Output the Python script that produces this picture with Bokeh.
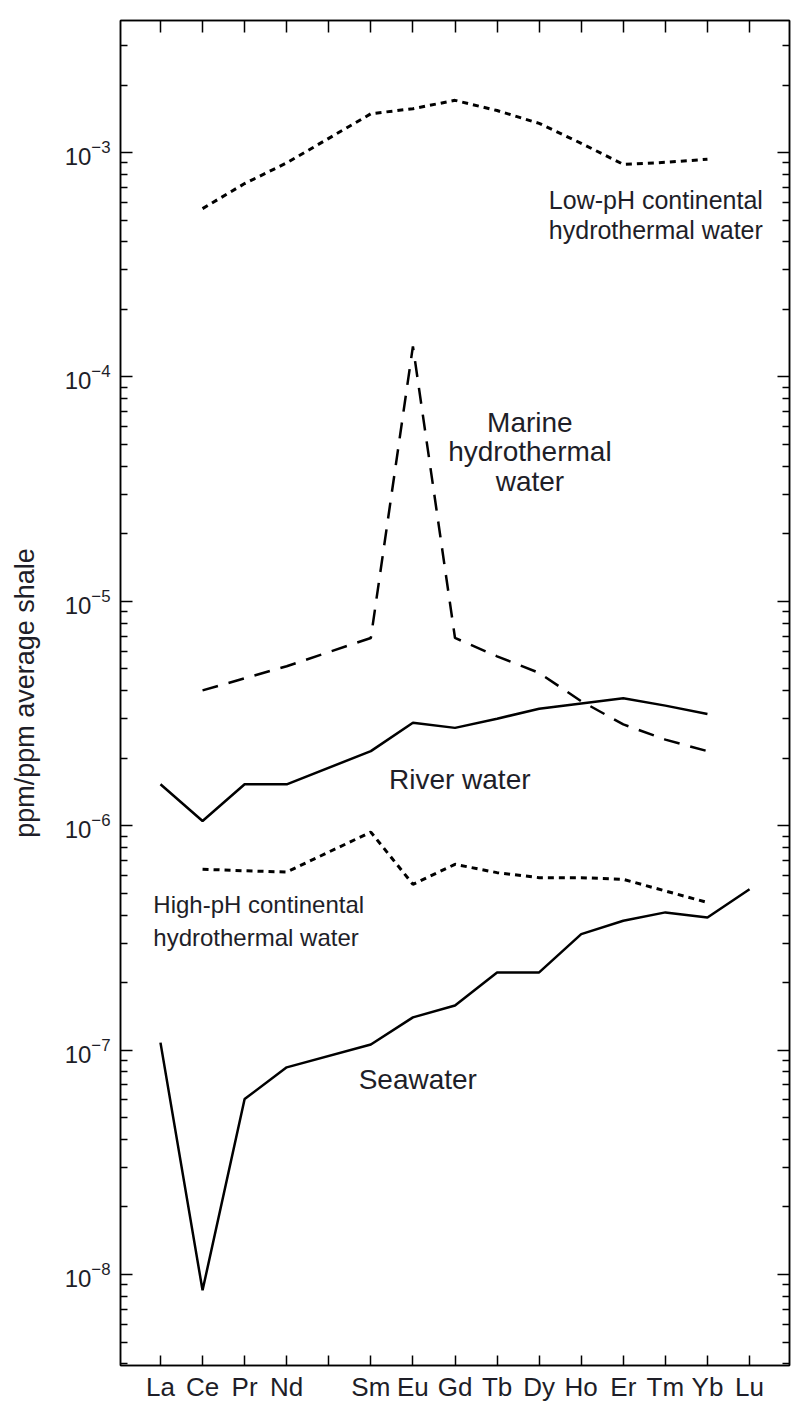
import numpy as np
from bokeh.plotting import figure
from bokeh.models import FixedTicker, LogAxis, LinearAxis, Range1d
from bokeh.embed import file_html
from bokeh.resources import INLINE
from bokeh.core.properties import value

# ---- data ----
elements = ["La", "Ce", "Pr", "Nd", "Sm", "Eu", "Gd", "Tb", "Dy", "Ho", "Er", "Tm", "Yb", "Lu"]
atomic_numbers = [57, 58, 59, 60, 62, 63, 64, 65, 66, 67, 68, 69, 70, 71]

low_ph_continental = [None, 5.63e-4, 7.28e-4, 9.0e-4, 1.49e-3, 1.57e-3, 1.71e-3, 1.54e-3,
                      1.35e-3, 1.10e-3, 8.87e-4, 9.05e-4, 9.34e-4, None]
marine_hydrothermal = [None, 4.01e-6, None, 5.14e-6, 6.87e-6, 1.37e-4, 6.87e-6, 5.69e-6,
                       4.80e-6, 3.59e-6, 2.83e-6, 2.42e-6, 2.15e-6, None]
river_water = [1.53e-6, 1.05e-6, 1.53e-6, 1.53e-6, 2.15e-6, 2.88e-6, 2.73e-6, 3.00e-6,
               3.32e-6, 3.51e-6, 3.70e-6, 3.43e-6, 3.15e-6, None]
high_ph_continental = [None, 6.40e-7, 6.30e-7, 6.22e-7, 9.37e-7, 5.48e-7, 6.73e-7, 6.18e-7,
                       5.87e-7, 5.87e-7, 5.77e-7, 5.12e-7, 4.55e-7, None]
seawater = [1.08e-7, 8.5e-9, 6.05e-8, 8.38e-8, 1.06e-7, 1.40e-7, 1.58e-7, 2.22e-7,
            2.22e-7, 3.29e-7, 3.77e-7, 4.11e-7, 3.90e-7, 5.21e-7]

x_tick_positions = list(range(57, 72))        # includes Pm (61), unlabeled
y_major_ticks = [1e-8, 1e-7, 1e-6, 1e-5, 1e-4, 1e-3]

# annotation texts
label_texts = ["Low-pH continental", "hydrothermal water",
               "Marine", "hydrothermal", "water",
               "River water",
               "High-pH continental", "hydrothermal water",
               "Seawater"]
label_x = [66.23, 66.23, 65.78, 65.78, 65.78, 62.43, 56.83, 56.83, 61.71]
label_y = [6.13e-4, 4.51e-4, 6.24e-5, 4.64e-5, 3.41e-5, 1.61e-6, 4.47e-7, 3.18e-7, 7.43e-8]

FONT = "Liberation Sans"
TXT = "#1e1e28"

p = figure(width=791, height=1404, y_axis_type="log",
           x_range=Range1d(56.05, 71.95), y_range=Range1d(3.93e-9, 3.88e-3),
           output_backend="svg", toolbar_location=None,
           min_border_left=120, min_border_right=2, min_border_top=20, min_border_bottom=38)
p.grid.visible = False
p.outline_line_color = "black"
p.outline_line_width = 1.5
p.background_fill_color = "white"
p.border_fill_color = "white"

minor = []
for n in range(-9, -2):
    for k in range(2, 10):
        v = k * 10.0 ** n
        if 3.93e-9 <= v <= 3.88e-3:
            minor.append(v)
yticker = FixedTicker(ticks=y_major_ticks, minor_ticks=minor)
xticker = FixedTicker(ticks=x_tick_positions)

overrides = {z: s for z, s in zip(atomic_numbers, elements)}
overrides[61] = ""

def style_axis(ax):
    ax.axis_line_color = "black"
    ax.axis_line_width = 1.5
    ax.major_tick_line_color = "black"
    ax.major_tick_line_width = 1.5
    ax.minor_tick_line_color = "black"
    ax.minor_tick_line_width = 1.5
    ax.major_tick_out = 0
    ax.minor_tick_out = 0

# bottom axis
xa = p.xaxis[0]
xa.ticker = xticker
xa.major_label_overrides = overrides
style_axis(xa)
xa.major_tick_in = 10
xa.major_label_standoff = 6
xa.major_label_text_font = FONT
xa.major_label_text_font_size = "26px"
xa.major_label_text_color = TXT

# left axis
ya = p.yaxis[0]
ya.ticker = yticker
style_axis(ya)
ya.major_tick_in = 12
ya.minor_tick_in = 7
ya.major_label_standoff = 10
ya.major_label_text_font = FONT
ya.major_label_text_font_size = "24px"
ya.major_label_text_color = TXT
ya.axis_label = "ppm/ppm average shale"
ya.axis_label_text_font = FONT
ya.axis_label_text_font_size = "27px"
ya.axis_label_text_font_style = "normal"
ya.axis_label_text_color = TXT
ya.axis_label_standoff = 22

# top axis (ticks only)
top = LinearAxis(ticker=xticker)
style_axis(top)
top.major_tick_in = 12
top.major_label_text_font_size = "0px"
top.major_label_text_color = None
top.major_label_standoff = 0
p.add_layout(top, "above")

# right axis (ticks only)
right = LogAxis(ticker=yticker)
style_axis(right)
right.major_tick_in = 12
right.minor_tick_in = 7
right.major_label_text_font_size = "0px"
right.major_label_text_color = None
right.major_label_standoff = 0
p.add_layout(right, "right")

def pts(vals):
    xs = [z for z, v in zip(atomic_numbers, vals) if v is not None]
    ys = [v for v in vals if v is not None]
    return xs, ys

x, y = pts(low_ph_continental)
p.line(x, y, line_color="black", line_width=3, line_dash="6 5")
x, y = pts(marine_hydrothermal)
p.line(x, y, line_color="black", line_width=2.5, line_dash="16 11")
x, y = pts(river_water)
p.line(x, y, line_color="black", line_width=2.5)
x, y = pts(high_ph_continental)
p.line(x, y, line_color="black", line_width=3, line_dash="6 5")
x, y = pts(seawater)
p.line(x, y, line_color="black", line_width=2.5)

# annotations
p.text(x=label_x[0:2], y=label_y[0:2], text=label_texts[0:2], text_font=value(FONT),
       text_font_size="25px", text_align="left", text_baseline="alphabetic", text_color=TXT)
p.text(x=label_x[2:5], y=label_y[2:5], text=label_texts[2:5], text_font=value(FONT),
       text_font_size="28px", text_align="center", text_baseline="alphabetic", text_color=TXT)
p.text(x=label_x[5:6], y=label_y[5:6], text=label_texts[5:6], text_font=value(FONT),
       text_font_size="28px", text_align="left", text_baseline="alphabetic", text_color=TXT)
p.text(x=label_x[6:8], y=label_y[6:8], text=label_texts[6:8], text_font=value(FONT),
       text_font_size="24px", text_align="left", text_baseline="alphabetic", text_color=TXT)
p.text(x=label_x[8:9], y=label_y[8:9], text=label_texts[8:9], text_font=value(FONT),
       text_font_size="28px", text_align="left", text_baseline="alphabetic", text_color=TXT)

open("out.html", "w").write(file_html(p, INLINE))
